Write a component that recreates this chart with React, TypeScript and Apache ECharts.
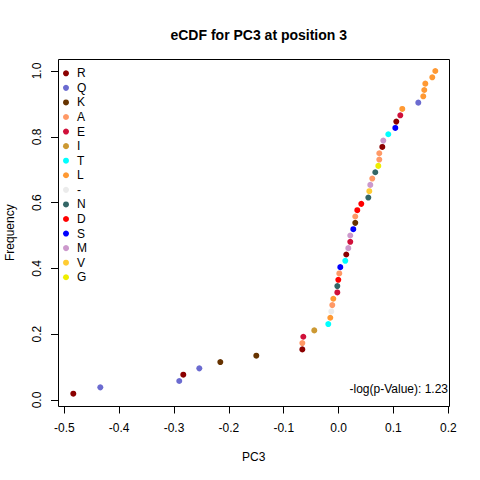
import React, { useEffect, useRef } from "react";
import * as echarts from "echarts";

// Sorted PC3 values (x) and the residue at each observation
const pc3Values = [
  -0.4836, -0.4344, -0.2904, -0.2831, -0.2539, -0.2156, -0.15, -0.0661, -0.0661, -0.0643,
  -0.0443, -0.0188, -0.0151, -0.0133, -0.0115, -0.0096, -0.0023, -0.0023, -0.0005, 0.0013,
  0.0031, 0.0122, 0.014, 0.0177, 0.0213, 0.0213, 0.0268, 0.0304, 0.0304, 0.0341,
  0.0414, 0.0542, 0.056, 0.0578, 0.0614, 0.0669, 0.0724, 0.0742, 0.0742, 0.0797,
  0.0815, 0.0906, 0.1034, 0.1052, 0.1125, 0.1161, 0.1453, 0.1544, 0.1562, 0.1581,
  0.1708, 0.1763,
];
const residues = [
  "R", "Q", "Q", "R", "Q", "K", "K", "R", "A", "E",
  "I", "T", "L", "-", "A", "L", "E", "N", "D", "A",
  "S", "T", "R", "M", "E", "M", "S", "K", "A", "D",
  "D", "N", "V", "M", "A", "N", "G", "A", "A", "R",
  "M", "T", "S", "R", "E", "L", "Q", "L", "L", "L",
  "L", "L",
];
const legendOrder = ["R", "Q", "K", "A", "E", "I", "T", "L", "-", "N", "D", "S", "M", "V", "G"];
const residueColors = [
  "#8B0000", "#6B6BD0", "#663300", "#FF9966", "#D0103A", "#CC9933", "#00FFFF", "#FF9933",
  "#EBEBEB", "#336666", "#FF0000", "#0000FF", "#CC99CC", "#FFCC33", "#EEEE00",
];
const xTicks = { min: -0.5, max: 0.2, interval: 0.1 };
const yTicks = { min: 0, max: 1, interval: 0.2 };
const titleText = "eCDF for PC3 at position 3";
const statText = "-log(p-Value): 1.23";

const FONT = "'Liberation Sans', Arial, sans-serif";

export default function App() {
  const ref = useRef<HTMLDivElement>(null);
  useEffect(() => {
    if (!ref.current) return;
    const chart = echarts.init(ref.current, null, { renderer: "svg" });
    const n = pc3Values.length;
    const series = legendOrder.map((aa, k) => ({
      name: aa,
      type: "scatter",
      symbol: "circle",
      symbolSize: 6,
      itemStyle: { color: residueColors[k], opacity: 1 },
      data: pc3Values
        .map((v, i) => ({ v, i }))
        .filter((d) => residues[d.i] === aa)
        .map((d) => [d.v, (d.i + 1) / n]),
    }));
    chart.setOption({
      animation: false,
      backgroundColor: "#ffffff",
      textStyle: { fontFamily: FONT },
      title: {
        text: titleText,
        left: 253.75,
        top: 23,
        textAlign: "center",
        textStyle: { fontFamily: FONT, fontSize: 14, fontWeight: "bold", color: "#000" },
      },
      legend: {
        orient: "vertical",
        left: 63,
        top: 66,
        padding: 0,
        itemGap: 0,
        itemWidth: 12,
        itemHeight: 6,
        icon: "circle",
        selectedMode: false,
        data: legendOrder,
        textStyle: { fontFamily: FONT, fontSize: 12, color: "#000", lineHeight: 14.57 },
      },
      grid: { left: 64.3, right: 31.7, top: 71, bottom: 80 },
      xAxis: {
        type: "value",
        min: xTicks.min,
        max: xTicks.max,
        interval: xTicks.interval,
        offset: 6.5,
        splitLine: { show: false },
        axisLine: { show: true, onZero: false, lineStyle: { color: "#000", width: 1 } },
        axisTick: { show: true, length: 7, lineStyle: { color: "#000" } },
        axisLabel: {
          margin: 15,
          fontFamily: FONT,
          fontSize: 12,
          color: "#000",
          formatter: (v: number) => v.toFixed(1),
        },
      },
      yAxis: {
        type: "value",
        min: yTicks.min,
        max: yTicks.max,
        interval: yTicks.interval,
        offset: 6.3,
        splitLine: { show: false },
        axisLine: { show: true, onZero: false, lineStyle: { color: "#000", width: 1 } },
        axisTick: { show: true, length: 7, lineStyle: { color: "#000" } },
        axisLabel: {
          margin: 15,
          rotate: 90,
          fontFamily: FONT,
          fontSize: 12,
          color: "#000",
          formatter: (v: number) => v.toFixed(1),
        },
      },
      graphic: [
        {
          type: "rect",
          shape: { x: 58.5, y: 59.5, width: 391, height: 347 },
          style: { fill: "none", stroke: "#000", lineWidth: 1 },
          silent: true,
        },
        {
          type: "text",
          x: 253.75,
          y: 457,
          style: {
            text: "PC3",
            fontFamily: FONT,
            fontSize: 12,
            fill: "#000",
            align: "center",
            verticalAlign: "middle",
          },
        },
        {
          type: "text",
          x: 10,
          y: 232.7,
          rotation: Math.PI / 2,
          style: {
            text: "Frequency",
            fontFamily: FONT,
            fontSize: 12,
            fill: "#000",
            align: "center",
            verticalAlign: "middle",
          },
        },
        {
          type: "text",
          x: 448,
          y: 389,
          style: {
            text: statText,
            fontFamily: FONT,
            fontSize: 12,
            fill: "#000",
            align: "right",
            verticalAlign: "middle",
          },
        },
      ],
      series,
    });
    return () => chart.dispose();
  }, []);
  return (
    <div
      ref={ref}
      style={{ position: "absolute", left: 0, top: 0, width: 480, height: 480 }}
    />
  );
}
